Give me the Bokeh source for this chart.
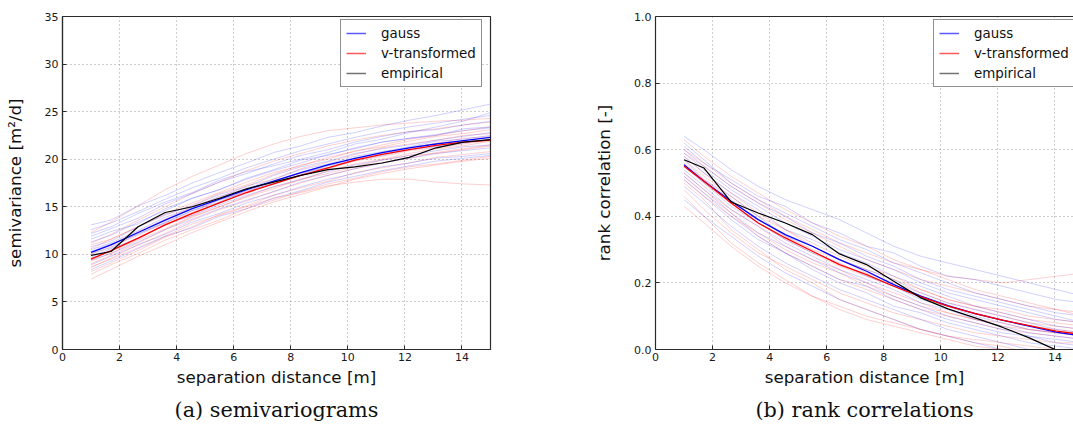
from bokeh.plotting import figure
from bokeh.models import (Legend, LegendItem, LinearAxis, Title, FixedTicker,
                          Range1d, CustomJSTickFormatter)
from bokeh.layouts import row
from bokeh.embed import file_html
from bokeh.resources import INLINE

# ---------------- data ----------------
distance = [1.0, 1.7, 2.65, 3.6, 4.55, 5.5, 6.45, 7.4, 8.35, 9.3, 10.25, 11.2, 12.15, 13.1, 14.05, 15.0]

semi_gauss_mean = [10.2, 11.0, 12.3, 13.6, 14.8, 15.8, 16.8, 17.7, 18.6, 19.4, 20.1, 20.7, 21.2, 21.6, 21.95, 22.3]
semi_vtrans_mean = [9.5, 10.4, 11.7, 13.1, 14.3, 15.4, 16.5, 17.4, 18.3, 19.1, 19.9, 20.5, 21.0, 21.45, 21.8, 22.0]
semi_empirical = [9.9, 10.3, 12.9, 14.4, 15.0, 15.9, 16.9, 17.6, 18.3, 18.9, 19.2, 19.6, 20.2, 21.2, 21.8, 22.05]

semi_gauss_real = [
    [12.6, 13.3, 14.5, 15.8, 17.0, 18.0, 19.1, 20.0, 20.9, 21.6, 22.3, 22.9, 23.4, 23.8, 24.2, 24.6],
    [11.3, 12.0, 13.4, 14.6, 15.9, 16.8, 17.9, 18.8, 19.6, 20.5, 21.1, 21.8, 22.2, 22.6, 23.0, 23.3],
    [9.4, 10.1, 11.3, 12.6, 13.7, 14.8, 15.7, 16.6, 17.6, 18.3, 19.0, 19.6, 20.1, 20.6, 20.9, 21.2],
    [10.8, 11.4, 12.9, 14.2, 15.1, 16.3, 17.1, 18.3, 19.2, 19.8, 20.6, 21.1, 21.5, 22.0, 22.4, 22.8],
    [8.9, 9.8, 11.0, 12.1, 13.4, 14.3, 15.4, 16.2, 17.1, 17.9, 18.5, 19.2, 19.6, 20.1, 20.3, 20.6],
    [11.9, 12.7, 13.8, 15.3, 16.4, 17.6, 18.5, 19.5, 20.4, 21.0, 21.8, 22.4, 22.9, 23.1, 23.6, 24.0],
    [10.1, 10.7, 12.2, 13.3, 14.6, 15.5, 16.7, 17.4, 18.4, 19.3, 19.9, 20.4, 21.0, 21.3, 21.7, 22.1],
    [13.1, 13.6, 15.1, 16.2, 17.5, 18.6, 19.6, 20.7, 21.4, 22.3, 22.8, 23.5, 24.1, 24.6, 25.2, 25.8],
    [9.7, 10.6, 11.7, 13.1, 14.1, 15.2, 16.2, 17.1, 17.9, 18.7, 19.4, 19.9, 20.4, 20.9, 21.3, 21.5],
    [10.5, 11.2, 12.5, 13.9, 14.9, 16.1, 16.9, 17.9, 18.9, 19.5, 20.3, 20.8, 21.3, 21.9, 22.1, 22.5],
    [11.6, 12.4, 13.2, 14.8, 15.9, 16.8, 18.0, 18.9, 19.9, 20.4, 21.2, 21.8, 22.2, 22.5, 23.2, 23.4],
    [8.4, 9.3, 10.6, 11.9, 12.8, 14.0, 14.8, 15.9, 16.7, 17.6, 18.2, 18.8, 19.3, 19.8, 20.1, 20.4],
    [12.2, 12.9, 14.3, 15.5, 16.5, 17.8, 18.7, 19.3, 20.0, 20.7, 21.6, 22.1, 22.8, 23.4, 24.0, 24.9],
    [10.3, 11.1, 12.1, 13.4, 14.6, 15.7, 16.5, 17.6, 18.6, 19.1, 19.9, 20.6, 21.1, 21.4, 21.9, 22.0],
]
semi_vtrans_real = [
    [7.4, 8.4, 9.8, 11.0, 12.3, 13.4, 14.5, 15.5, 16.3, 17.1, 17.9, 18.5, 19.0, 19.4, 19.8, 20.1],
    [9.0, 9.9, 11.2, 12.6, 13.9, 15.0, 16.1, 17.1, 17.8, 18.8, 19.5, 20.0, 20.6, 21.1, 21.4, 21.9],
    [11.2, 12.1, 13.6, 15.0, 16.4, 17.6, 18.8, 19.8, 20.6, 21.4, 22.0, 22.5, 22.9, 23.2, 23.6, 23.9],
    [8.2, 9.1, 10.4, 11.8, 12.9, 14.2, 15.1, 16.2, 17.0, 17.7, 18.6, 19.1, 19.6, 20.2, 20.5, 20.8],
    [10.2, 11.0, 12.4, 13.7, 15.0, 16.0, 17.2, 17.9, 19.0, 19.7, 20.5, 21.2, 21.6, 22.0, 22.5, 22.7],
    [12.3, 13.4, 15.1, 16.8, 18.2, 19.4, 20.6, 21.6, 22.4, 23.0, 23.3, 23.6, 23.8, 24.0, 24.1, 24.3],
    [9.6, 10.3, 11.6, 13.2, 14.1, 15.5, 16.4, 17.5, 18.3, 19.0, 19.8, 20.3, 20.9, 21.2, 21.6, 22.0],
    [8.7, 9.5, 10.7, 11.9, 13.2, 14.1, 15.0, 15.9, 16.5, 17.2, 17.6, 17.9, 17.9, 17.6, 17.4, 17.3],
    [10.6, 11.6, 12.9, 14.3, 15.4, 16.5, 17.6, 18.6, 19.3, 20.2, 20.8, 21.5, 22.1, 22.5, 23.0, 23.4],
    [9.3, 10.1, 11.5, 12.7, 14.0, 15.0, 16.0, 16.9, 17.9, 18.5, 19.2, 19.9, 20.4, 20.6, 21.0, 21.4],
    [11.0, 11.6, 12.9, 14.1, 15.2, 16.4, 17.3, 18.4, 19.4, 20.0, 20.9, 21.3, 21.9, 22.4, 22.7, 23.1],
    [7.9, 8.9, 10.1, 11.5, 12.6, 13.6, 14.8, 15.7, 16.6, 17.4, 18.0, 18.7, 19.2, 19.5, 19.9, 20.3],
    [10.0, 10.8, 12.0, 13.3, 14.4, 15.8, 16.6, 17.7, 18.5, 19.4, 20.0, 20.7, 21.2, 21.7, 22.2, 22.4],
    [8.6, 9.6, 11.0, 12.2, 13.6, 14.7, 15.6, 16.6, 17.5, 18.3, 19.0, 19.6, 20.1, 20.7, 21.1, 21.5],
]

corr_gauss_mean = [0.555, 0.505, 0.445, 0.39, 0.345, 0.31, 0.27, 0.235, 0.195, 0.16, 0.132, 0.108, 0.088, 0.07, 0.052, 0.04]
corr_vtrans_mean = [0.550, 0.505, 0.44, 0.38, 0.335, 0.295, 0.255, 0.225, 0.19, 0.158, 0.13, 0.108, 0.088, 0.072, 0.055, 0.045]
corr_empirical = [0.570, 0.545, 0.443, 0.41, 0.38, 0.345, 0.287, 0.255, 0.205, 0.155, 0.122, 0.095, 0.067, 0.035, -0.002, -0.035]

corr_gauss_real = [
    [0.62, 0.57, 0.50, 0.45, 0.41, 0.37, 0.33, 0.30, 0.26, 0.23, 0.20, 0.17, 0.15, 0.13, 0.11, 0.10],
    [0.53, 0.48, 0.41, 0.35, 0.31, 0.27, 0.23, 0.20, 0.16, 0.13, 0.10, 0.08, 0.06, 0.04, 0.03, 0.02],
    [0.58, 0.53, 0.47, 0.42, 0.36, 0.33, 0.29, 0.26, 0.22, 0.19, 0.16, 0.13, 0.11, 0.09, 0.07, 0.06],
    [0.49, 0.44, 0.37, 0.31, 0.26, 0.22, 0.18, 0.15, 0.12, 0.09, 0.06, 0.04, 0.02, 0.00, -0.01, -0.02],
    [0.60, 0.55, 0.49, 0.44, 0.40, 0.35, 0.32, 0.28, 0.25, 0.21, 0.18, 0.16, 0.14, 0.12, 0.10, 0.08],
    [0.55, 0.50, 0.43, 0.38, 0.33, 0.29, 0.26, 0.22, 0.19, 0.15, 0.13, 0.10, 0.08, 0.06, 0.05, 0.04],
    [0.64, 0.60, 0.54, 0.49, 0.45, 0.42, 0.39, 0.35, 0.31, 0.28, 0.26, 0.24, 0.22, 0.20, 0.18, 0.16],
    [0.51, 0.46, 0.39, 0.33, 0.29, 0.24, 0.20, 0.17, 0.13, 0.11, 0.08, 0.06, 0.04, 0.02, 0.01, 0.00],
    [0.57, 0.51, 0.46, 0.40, 0.34, 0.31, 0.27, 0.24, 0.21, 0.17, 0.14, 0.12, 0.10, 0.08, 0.06, 0.05],
    [0.45, 0.40, 0.34, 0.28, 0.23, 0.19, 0.15, 0.12, 0.09, 0.06, 0.04, 0.02, 0.00, -0.02, -0.03, -0.04],
    [0.59, 0.54, 0.48, 0.43, 0.38, 0.34, 0.30, 0.27, 0.24, 0.20, 0.17, 0.15, 0.13, 0.11, 0.09, 0.08],
    [0.54, 0.49, 0.42, 0.37, 0.32, 0.28, 0.24, 0.21, 0.18, 0.14, 0.12, 0.09, 0.07, 0.05, 0.04, 0.03],
    [0.61, 0.56, 0.51, 0.46, 0.43, 0.38, 0.35, 0.31, 0.29, 0.25, 0.22, 0.21, 0.19, 0.17, 0.15, 0.14],
    [0.52, 0.47, 0.40, 0.34, 0.29, 0.25, 0.21, 0.19, 0.15, 0.12, 0.09, 0.07, 0.05, 0.04, 0.02, 0.01],
]
corr_vtrans_real = [
    [0.50, 0.45, 0.36, 0.30, 0.24, 0.20, 0.15, 0.12, 0.09, 0.06, 0.04, 0.02, 0.01, -0.01, -0.02, -0.03],
    [0.60, 0.56, 0.50, 0.45, 0.40, 0.36, 0.32, 0.29, 0.26, 0.24, 0.22, 0.21, 0.20, 0.21, 0.22, 0.23],
    [0.55, 0.50, 0.44, 0.38, 0.33, 0.29, 0.25, 0.22, 0.19, 0.16, 0.13, 0.11, 0.09, 0.07, 0.06, 0.05],
    [0.46, 0.40, 0.32, 0.26, 0.21, 0.16, 0.12, 0.09, 0.07, 0.05, 0.03, 0.01, 0.00, -0.01, -0.01, -0.02],
    [0.58, 0.53, 0.47, 0.41, 0.36, 0.32, 0.28, 0.25, 0.22, 0.18, 0.15, 0.13, 0.11, 0.09, 0.08, 0.07],
    [0.52, 0.47, 0.41, 0.34, 0.29, 0.25, 0.21, 0.18, 0.15, 0.12, 0.10, 0.08, 0.06, 0.05, 0.04, 0.03],
    [0.63, 0.58, 0.52, 0.47, 0.42, 0.38, 0.34, 0.31, 0.27, 0.24, 0.21, 0.18, 0.16, 0.14, 0.12, 0.11],
    [0.48, 0.42, 0.35, 0.29, 0.25, 0.21, 0.17, 0.14, 0.11, 0.09, 0.07, 0.05, 0.04, 0.03, 0.02, 0.02],
    [0.56, 0.51, 0.45, 0.39, 0.34, 0.30, 0.27, 0.23, 0.20, 0.17, 0.14, 0.12, 0.10, 0.08, 0.07, 0.06],
    [0.53, 0.48, 0.42, 0.37, 0.31, 0.27, 0.24, 0.20, 0.17, 0.14, 0.11, 0.09, 0.08, 0.06, 0.05, 0.04],
    [0.59, 0.55, 0.49, 0.44, 0.39, 0.35, 0.31, 0.27, 0.24, 0.21, 0.19, 0.17, 0.15, 0.13, 0.12, 0.10],
    [0.43, 0.38, 0.31, 0.25, 0.20, 0.16, 0.13, 0.10, 0.08, 0.06, 0.04, 0.03, 0.02, 0.01, 0.00, -0.01],
    [0.57, 0.52, 0.46, 0.40, 0.36, 0.31, 0.27, 0.24, 0.21, 0.18, 0.15, 0.13, 0.12, 0.10, 0.09, 0.08],
    [0.51, 0.46, 0.40, 0.35, 0.30, 0.26, 0.23, 0.19, 0.16, 0.13, 0.11, 0.09, 0.07, 0.06, 0.05, 0.04],
]

x_ticks = [0, 2, 4, 6, 8, 10, 12, 14]
semi_ticks = [0, 5, 10, 15, 20, 25, 30, 35]
corr_ticks = [0.0, 0.2, 0.4, 0.6, 0.8, 1.0]
legend_labels = ["gauss", "v-transformed", "empirical"]
x_title = "separation distance [m]"
y_titles = ["semivariance [m\u00b2/d]", "rank correlation [-]"]
captions = ["(a) semivariograms", "(b) rank correlations"]

# ---------------- styling ----------------
BLUE = "#0000ff"
RED = "#ff0000"
SANS = "DejaVu Sans"
SERIF = "DejaVu Serif"
FRAME = "#2b2b2b"


def make_panel(border_left, border_right, frame_w, x_end, y_end, yticks, yfmt,
               gauss_real, vtrans_real, gauss_mean, vtrans_mean, empirical,
               ytitle, caption, legend_xy, draw_right_edge):
    p = figure(frame_width=frame_w, frame_height=333,
               min_border_left=border_left, min_border_right=border_right,
               min_border_top=16, min_border_bottom=81,
               x_range=Range1d(0, x_end), y_range=Range1d(0, y_end),
               output_backend="svg", toolbar_location=None,
               background_fill_color="white", border_fill_color="white")
    p.outline_line_color = FRAME if draw_right_edge else None
    p.outline_line_width = 1.2

    # axes
    for ax in (p.xaxis[0], p.yaxis[0]):
        ax.axis_line_color = FRAME
        ax.axis_line_width = 1.2
        ax.major_tick_in = 4
        ax.major_tick_out = 0
        ax.minor_tick_line_color = None
        ax.major_tick_line_color = FRAME
        ax.major_label_text_font = SANS
        ax.major_label_text_font_size = "11px"
        ax.major_label_text_color = "#1a1a1a"
    p.xaxis[0].ticker = FixedTicker(ticks=x_ticks)
    p.xaxis[0].major_label_standoff = 3
    p.yaxis[0].ticker = FixedTicker(ticks=yticks)
    p.yaxis[0].major_label_standoff = 4
    if yfmt:
        p.yaxis[0].formatter = CustomJSTickFormatter(code="return tick.toFixed(1);")
    p.yaxis[0].axis_label = ytitle
    p.yaxis[0].axis_label_text_font = SANS
    p.yaxis[0].axis_label_text_font_size = "16.7px"
    p.yaxis[0].axis_label_text_font_style = "normal"
    p.yaxis[0].axis_label_text_color = "#111111"
    p.yaxis[0].axis_label_standoff = 17

    if not draw_right_edge:
        # top frame edge only (right edge lies outside the window)
        top = LinearAxis(ticker=FixedTicker(ticks=[]), minor_tick_line_color=None,
                         axis_line_color=FRAME, axis_line_width=1.2)
        p.add_layout(top, "above")

    # grid
    p.xgrid.ticker = FixedTicker(ticks=x_ticks)
    p.ygrid.ticker = FixedTicker(ticks=yticks)
    for g in (p.xgrid[0], p.ygrid[0]):
        g.grid_line_color = "#9a9a9a"
        g.grid_line_dash = "1 3"
        g.grid_line_width = 1

    # realizations
    for ys in vtrans_real:
        p.line(distance, ys, line_color=RED, line_alpha=0.19, line_width=1)
    for ys in gauss_real:
        p.line(distance, ys, line_color=BLUE, line_alpha=0.19, line_width=1)

    # means and empirical
    p.line(distance, gauss_mean, line_color=BLUE, line_width=1.3)
    p.line(distance, vtrans_mean, line_color=RED, line_width=1.3)
    p.line(distance, empirical, line_color="black", line_width=1.2)

    # legend handles (single-point lines draw nothing in the plot area)
    h1 = p.line(distance[:1], gauss_mean[:1], line_color=BLUE, line_alpha=0.65, line_width=1.5)
    h2 = p.line(distance[:1], vtrans_mean[:1], line_color=RED, line_alpha=0.65, line_width=1.5)
    h3 = p.line(distance[:1], empirical[:1], line_color="black", line_alpha=0.55, line_width=1.5)
    legend = Legend(items=[LegendItem(label=legend_labels[0], renderers=[h1]),
                           LegendItem(label=legend_labels[1], renderers=[h2]),
                           LegendItem(label=legend_labels[2], renderers=[h3])],
                    location=legend_xy)
    legend.label_text_font = SANS
    legend.label_text_font_size = "13.4px"
    legend.label_text_color = "#111111"
    legend.glyph_width = 20
    legend.glyph_height = 16
    legend.label_height = 16
    legend.label_standoff = 15
    legend.spacing = 4
    legend.padding = 5
    legend.margin = 0
    legend.border_line_color = "#222222"
    legend.border_line_width = 1
    legend.background_fill_color = "white"
    legend.background_fill_alpha = 1.0
    p.add_layout(legend)

    # x title and caption as stacked titles below
    xt = Title(text=x_title, align="center", offset=-11, text_font=SANS,
               text_font_size="16.7px", text_font_style="normal", text_color="#111111",
               standoff=2)
    p.add_layout(xt, "below")
    cap = Title(text=caption, align="center", offset=-11, text_font=SERIF,
                text_font_size="20.8px", text_font_style="normal", text_color="#111111",
                standoff=16)
    p.add_layout(cap, "below")
    return p


p1 = make_panel(62, 70, 428, 15, 35, semi_ticks, False,
                semi_gauss_real, semi_vtrans_real, semi_gauss_mean, semi_vtrans_mean, semi_empirical,
                y_titles[0], captions[0], (278, 262), True)
p2 = make_panel(95, 0, 418, 14.65, 1.0, corr_ticks, True,
                corr_gauss_real, corr_vtrans_real, corr_gauss_mean, corr_vtrans_mean, corr_empirical,
                y_titles[1], captions[1], (278, 262), False)

layout = row(p1, p2)
open("out.html", "w").write(file_html(layout, INLINE))
